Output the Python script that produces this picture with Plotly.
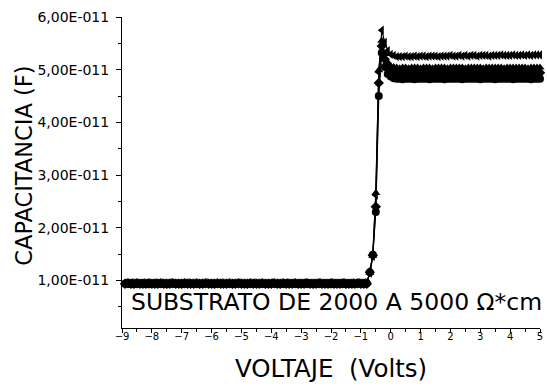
import plotly.graph_objects as go

# Voltage sweep (V)
VOLTAGE = [
    -8.9, -8.8, -8.7, -8.6, -8.5, -8.4, -8.3, -8.2, -8.1, -8.0,
    -7.9, -7.8, -7.7, -7.6, -7.5, -7.4, -7.3, -7.2, -7.1, -7.0,
    -6.9, -6.8, -6.7, -6.6, -6.5, -6.4, -6.3, -6.2, -6.1, -6.0,
    -5.9, -5.8, -5.7, -5.6, -5.5, -5.4, -5.3, -5.2, -5.1, -5.0,
    -4.9, -4.8, -4.7, -4.6, -4.5, -4.4, -4.3, -4.2, -4.1, -4.0,
    -3.9, -3.8, -3.7, -3.6, -3.5, -3.4, -3.3, -3.2, -3.1, -3.0,
    -2.9, -2.8, -2.7, -2.6, -2.5, -2.4, -2.3, -2.2, -2.1, -2.0,
    -1.9, -1.8, -1.7, -1.6, -1.5, -1.4, -1.3, -1.2, -1.1, -1.0,
    -0.9, -0.8,
    -0.7, -0.6, -0.5, -0.4, -0.3, -0.2, -0.1, 0.0, 0.1,
    0.2, 0.3, 0.4, 0.5, 0.6, 0.7, 0.8, 0.9, 1.0,
    1.1, 1.2, 1.3, 1.4, 1.5, 1.6, 1.7, 1.8, 1.9, 2.0,
    2.1, 2.2, 2.3, 2.4, 2.5, 2.6, 2.7, 2.8, 2.9, 3.0,
    3.1, 3.2, 3.3, 3.4, 3.5, 3.6, 3.7, 3.8, 3.9, 4.0,
    4.1, 4.2, 4.3, 4.4, 4.5, 4.6, 4.7, 4.8, 4.9, 5.0,
]

# Capacitance values in units of 1E-11 F
CAP_TRI_LEFT = [
    0.95, 0.95, 0.96, 0.95, 0.95, 0.95, 0.96, 0.95, 0.95, 0.95,
    0.96, 0.95, 0.95, 0.95, 0.95, 0.96, 0.95, 0.95, 0.95, 0.95,
    0.95, 0.96, 0.95, 0.95, 0.95, 0.95, 0.95, 0.96, 0.95, 0.95,
    0.95, 0.95, 0.96, 0.95, 0.95, 0.95, 0.95, 0.95, 0.96, 0.95,
    0.95, 0.95, 0.95, 0.96, 0.95, 0.95, 0.95, 0.95, 0.95, 0.96,
    0.95, 0.95, 0.95, 0.95, 0.96, 0.95, 0.95, 0.95, 0.95, 0.95,
    0.96, 0.95, 0.95, 0.95, 0.95, 0.96, 0.95, 0.95, 0.95, 0.96,
    0.95, 0.95, 0.95, 0.96, 0.95, 0.95, 0.96, 0.95, 0.96, 0.95,
    0.96, 0.96,
    1.14, 1.46, 2.62, 4.95, 5.75, 5.52, 5.36, 5.29, 5.27,
    5.25, 5.25, 5.25, 5.26, 5.25, 5.25, 5.26, 5.25, 5.26,
    5.26, 5.25, 5.26, 5.26, 5.26, 5.25, 5.26, 5.26, 5.26, 5.27,
    5.26, 5.26, 5.27, 5.26, 5.27, 5.26, 5.27, 5.27, 5.26, 5.27,
    5.27, 5.27, 5.26, 5.27, 5.27, 5.27, 5.28, 5.27, 5.27, 5.27,
    5.28, 5.27, 5.27, 5.28, 5.27, 5.28, 5.27, 5.28, 5.28, 5.28,
]

CAP_TRI_UP = [
    0.95, 0.94, 0.95, 0.95, 0.95, 0.94, 0.95, 0.95, 0.95, 0.94,
    0.95, 0.95, 0.94, 0.95, 0.95, 0.95, 0.94, 0.95, 0.95, 0.95,
    0.94, 0.95, 0.95, 0.95, 0.94, 0.95, 0.95, 0.94, 0.95, 0.95,
    0.95, 0.94, 0.95, 0.95, 0.95, 0.94, 0.95, 0.95, 0.94, 0.95,
    0.95, 0.95, 0.94, 0.95, 0.95, 0.95, 0.94, 0.95, 0.95, 0.95,
    0.94, 0.95, 0.95, 0.94, 0.95, 0.95, 0.95, 0.94, 0.95, 0.95,
    0.95, 0.94, 0.95, 0.95, 0.95, 0.94, 0.95, 0.95, 0.95, 0.94,
    0.95, 0.95, 0.95, 0.94, 0.95, 0.95, 0.95, 0.95, 0.94, 0.95,
    0.95, 0.95,
    1.15, 1.47, 2.66, 4.99, 5.55, 5.30, 5.14, 5.07, 5.05,
    5.04, 5.03, 5.04, 5.04, 5.03, 5.04, 5.04, 5.04, 5.03, 5.04,
    5.04, 5.04, 5.03, 5.04, 5.04, 5.04, 5.04, 5.03, 5.04, 5.04,
    5.04, 5.04, 5.04, 5.03, 5.04, 5.04, 5.04, 5.04, 5.04, 5.03,
    5.04, 5.04, 5.04, 5.04, 5.04, 5.04, 5.03, 5.04, 5.04, 5.04,
    5.04, 5.04, 5.04, 5.04, 5.03, 5.04, 5.04, 5.04, 5.04, 5.04,
]

CAP_DIAMOND = [
    0.94, 0.95, 0.94, 0.94, 0.95, 0.94, 0.94, 0.94, 0.95, 0.94,
    0.94, 0.94, 0.95, 0.94, 0.94, 0.94, 0.95, 0.94, 0.94, 0.94,
    0.95, 0.94, 0.94, 0.94, 0.95, 0.94, 0.94, 0.95, 0.94, 0.94,
    0.94, 0.95, 0.94, 0.94, 0.94, 0.95, 0.94, 0.94, 0.95, 0.94,
    0.94, 0.94, 0.95, 0.94, 0.94, 0.94, 0.95, 0.94, 0.94, 0.94,
    0.95, 0.94, 0.94, 0.95, 0.94, 0.94, 0.94, 0.95, 0.94, 0.94,
    0.94, 0.95, 0.94, 0.94, 0.94, 0.95, 0.94, 0.94, 0.94, 0.95,
    0.94, 0.94, 0.94, 0.95, 0.94, 0.94, 0.94, 0.94, 0.95, 0.94,
    0.94, 0.94,
    1.16, 1.48, 2.40, 4.75, 5.45, 5.20, 5.03, 4.97, 4.95,
    4.94, 4.94, 4.93, 4.94, 4.94, 4.94, 4.93, 4.94, 4.94, 4.94,
    4.94, 4.93, 4.94, 4.94, 4.94, 4.94, 4.93, 4.94, 4.94, 4.94,
    4.94, 4.94, 4.93, 4.94, 4.94, 4.94, 4.94, 4.94, 4.93, 4.94,
    4.94, 4.94, 4.94, 4.93, 4.94, 4.94, 4.94, 4.94, 4.94, 4.93,
    4.94, 4.94, 4.94, 4.94, 4.94, 4.93, 4.94, 4.94, 4.94, 4.94,
]

CAP_CIRCLE = [
    0.94, 0.94, 0.94, 0.93, 0.94, 0.94, 0.94, 0.94, 0.93, 0.94,
    0.94, 0.94, 0.94, 0.94, 0.93, 0.94, 0.94, 0.94, 0.94, 0.93,
    0.94, 0.94, 0.94, 0.94, 0.94, 0.93, 0.94, 0.94, 0.94, 0.94,
    0.93, 0.94, 0.94, 0.94, 0.94, 0.94, 0.93, 0.94, 0.94, 0.94,
    0.94, 0.93, 0.94, 0.94, 0.94, 0.94, 0.94, 0.93, 0.94, 0.94,
    0.94, 0.94, 0.93, 0.94, 0.94, 0.94, 0.94, 0.94, 0.93, 0.94,
    0.94, 0.94, 0.94, 0.93, 0.94, 0.94, 0.94, 0.94, 0.94, 0.93,
    0.94, 0.94, 0.94, 0.94, 0.93, 0.94, 0.94, 0.94, 0.94, 0.94,
    0.94, 0.95,
    1.16, 1.49, 2.30, 4.50, 5.32, 5.05, 4.92, 4.87, 4.84,
    4.83, 4.83, 4.82, 4.83, 4.83, 4.83, 4.82, 4.83, 4.83, 4.83,
    4.83, 4.82, 4.83, 4.83, 4.83, 4.83, 4.82, 4.83, 4.83, 4.83,
    4.83, 4.83, 4.82, 4.83, 4.83, 4.83, 4.83, 4.83, 4.82, 4.83,
    4.83, 4.83, 4.83, 4.82, 4.83, 4.83, 4.83, 4.83, 4.83, 4.82,
    4.83, 4.83, 4.83, 4.83, 4.83, 4.82, 4.83, 4.83, 4.83, 4.83,
]

SERIES = [
    ("circle", CAP_CIRCLE),
    ("diamond", CAP_DIAMOND),
    ("triangle-up", CAP_TRI_UP),
    ("triangle-left", CAP_TRI_LEFT),
]

X_TICKS = [-9, -8, -7, -6, -5, -4, -3, -2, -1, 0, 1, 2, 3, 4, 5]
X_MINOR = [-8.5, -7.5, -6.5, -5.5, -4.5, -3.5, -2.5, -1.5, -0.5,
           0.5, 1.5, 2.5, 3.5, 4.5]
Y_TICKS = [1, 2, 3, 4, 5, 6]
Y_TICK_LABELS = ["1,00E-011", "2,00E-011", "3,00E-011",
                 "4,00E-011", "5,00E-011", "6,00E-011"]
Y_MINOR = [0.5, 1.5, 2.5, 3.5, 4.5, 5.5]

FONT = "DejaVu Sans, Liberation Sans, Arial, sans-serif"

fig = go.Figure()
for symbol, values in SERIES:
    fig.add_trace(go.Scatter(
        x=VOLTAGE, y=values, mode="lines+markers",
        line=dict(color="black", width=1.2),
        marker=dict(symbol=symbol, size=8, color="black",
                    line=dict(width=0)),
        cliponaxis=False, showlegend=False,
    ))

ML, MR, MT, MB = 122, 4, 17, 60
W, H = 547, 388
plot_w = W - ML - MR
plot_h = H - MT - MB

fig.update_layout(
    width=W, height=H,
    margin=dict(l=ML, r=MR, t=MT, b=MB),
    paper_bgcolor="white", plot_bgcolor="white",
    font=dict(family=FONT, color="black"),
    showlegend=False,
)

fig.update_xaxes(
    range=[-9, 5], showgrid=False, zeroline=False,
    showline=True, linecolor="black", linewidth=1,
    tickmode="array", tickvals=X_TICKS,
    ticks="outside", ticklen=4, tickwidth=1, tickcolor="black",
    tickfont=dict(size=10, family=FONT),
    ticklabelstandoff=-5,
    minor=dict(tickmode="array", tickvals=X_MINOR, ticks="outside",
               ticklen=3, tickwidth=1, tickcolor="black"),
)
fig.update_yaxes(
    range=[0.1, 6], showgrid=False, zeroline=False,
    showline=True, linecolor="black", linewidth=1,
    tickmode="array", tickvals=Y_TICKS, ticktext=Y_TICK_LABELS,
    ticks="outside", ticklen=5, tickwidth=1, tickcolor="black",
    tickfont=dict(size=14, family=FONT),
    ticklabelstandoff=4,
    minor=dict(tickmode="array", tickvals=Y_MINOR, ticks="outside",
               ticklen=3, tickwidth=1, tickcolor="black"),
)

fig.add_annotation(
    text="SUBSTRATO DE 2000 A 5000 Ω*cm",
    x=-1.81, y=0.59, xref="x", yref="y",
    xanchor="center", yanchor="middle", showarrow=False,
    font=dict(size=23.5, family=FONT, color="black"),
)
fig.add_annotation(
    text="VOLTAJE  (Volts)",
    x=(332 - ML) / plot_w, y=-(368 - (H - MB)) / plot_h,
    xref="paper", yref="paper",
    xanchor="center", yanchor="middle", showarrow=False,
    font=dict(size=24.5, family=FONT, color="black"),
)
fig.add_annotation(
    text="CAPACITANCIA (F)",
    x=(23 - ML) / plot_w, y=((H - MB) - 166) / plot_h,
    xref="paper", yref="paper",
    xanchor="center", yanchor="middle", showarrow=False, textangle=-90,
    font=dict(size=22.5, family=FONT, color="black"),
)

fig.write_html("out.html")
